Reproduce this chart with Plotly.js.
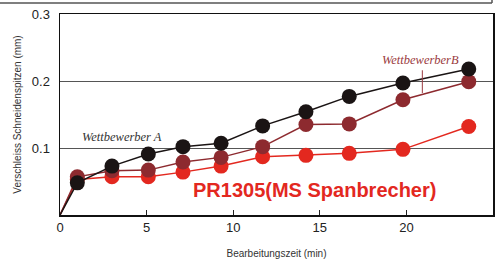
<!DOCTYPE html>
<html>
<head>
<meta charset="utf-8">
<script src="https://cdn.plot.ly/plotly-3.0.1.min.js"></script>
<style>
html,body{margin:0;padding:0;background:#fff;}
#chart{width:499px;height:259px;}
</style>
</head>
<body>
<div id="chart"></div>
<script>
// Machining time (min)
const time = [0, 1.0, 3.0, 5.1, 7.1, 9.3, 11.7, 14.2, 16.7, 19.8, 23.6];
// Corner wear (mm)
const wettbewerberA = [0, 0.048, 0.073, 0.091, 0.102, 0.107, 0.133, 0.154, 0.177, 0.197, 0.218];
const wettbewerberB = [0, 0.057, 0.066, 0.067, 0.079, 0.086, 0.102, 0.135, 0.136, 0.172, 0.199];
const pr1305 = [0, 0.053, 0.057, 0.057, 0.064, 0.073, 0.087, 0.089, 0.092, 0.098, 0.132];
const seriesNames = ["PR1305(MS Spanbrecher)", "WettbewerberB", "Wettbewerber A"];
const xTicks = [0, 5, 10, 15, 20, 25];
const yTicks = [0.1, 0.2, 0.3];

const msize = time.map((t, i) => i === 0 ? 0 : 15);
function tr(y, color, name) {
  return {
    x: time, y: y, name: name, type: 'scatter', mode: 'lines+markers',
    line: {color: color, width: 1.5},
    marker: {color: color, size: msize, opacity: 1, line: {width: 0}},
    opacity: 1,
    cliponaxis: false, hoverinfo: 'skip'
  };
}
const data = [
  tr(pr1305, '#e3281f', seriesNames[0]),
  tr(wettbewerberB, '#8d2a2f', seriesNames[1]),
  tr(wettbewerberA, '#1a1414', seriesNames[2])
];

const layout = {
  width: 499, height: 259,
  margin: {l: 60, r: 6, t: 14, b: 44},
  paper_bgcolor: '#fff', plot_bgcolor: '#fff',
  showlegend: false,
  font: {family: 'Liberation Sans, Arial, sans-serif', color: '#222'},
  xaxis: {
    range: [0, 25], tickvals: xTicks, ticktext: xTicks.map(String),
    ticks: 'inside', ticklen: 5, tickcolor: '#222', tickwidth: 1,
    showgrid: false, zeroline: false,
    showline: true, linecolor: '#111', linewidth: 1.5, mirror: true,
    tickfont: {size: 13, color: '#222'},
    title: {text: 'Bearbeitungszeit (min)', font: {size: 10, color: '#333'}, standoff: 16}
  },
  yaxis: {
    range: [0, 0.3], tickvals: yTicks, ticktext: yTicks.map(v => v.toFixed(1)),
    ticks: '', showgrid: true, gridcolor: '#555', gridwidth: 1,
    zeroline: false, showline: true, linecolor: '#111', linewidth: 1.5, mirror: true,
    ticklabelstandoff: 6,
    tickfont: {size: 13, color: '#222'},
    title: {text: 'Verschleiss Schneidenspitzen (mm)', font: {size: 10, color: '#333'}, standoff: 8}
  },
  annotations: [
    {x: 3.6, y: 0.117, xref: 'x', yref: 'y', text: '<i>Wettbewerber A</i>', showarrow: false,
     font: {family: 'Liberation Serif, Times New Roman, serif', size: 12.5, color: '#333'},
     xanchor: 'center', yanchor: 'middle'},
    {x: 20.8, y: 0.231, xref: 'x', yref: 'y', text: '<i>WettbewerberB</i>', showarrow: false,
     font: {family: 'Liberation Serif, Times New Roman, serif', size: 12.5, color: '#9a3a40'},
     xanchor: 'center', yanchor: 'middle'},
    {x: 14.7, y: 0.037, xref: 'x', yref: 'y', text: '<b>PR1305(MS Spanbrecher)</b>', showarrow: false,
     font: {family: 'Liberation Sans, Arial, sans-serif', size: 20, color: '#e3281f'},
     xanchor: 'center', yanchor: 'middle'}
  ],
  shapes: [
    {type: 'line', xref: 'x', yref: 'y', x0: 20.92, x1: 20.92, y0: 0.216, y1: 0.182,
     line: {color: '#9a3a40', width: 1}},
    {type: 'line', xref: 'paper', yref: 'paper', x0: -60/433, x1: (492-60)/433, y0: 212/201, y1: 212/201,
     line: {color: '#555', width: 1.5}},
    {type: 'line', xref: 'paper', yref: 'paper', x0: (492-60)/433, x1: (492-60)/433, y0: 212/201, y1: 216/201,
     line: {color: '#555', width: 1.5}}
  ]
};

Plotly.newPlot('chart', data, layout, {staticPlot: true, displayModeBar: false});
</script>
</body>
</html>
